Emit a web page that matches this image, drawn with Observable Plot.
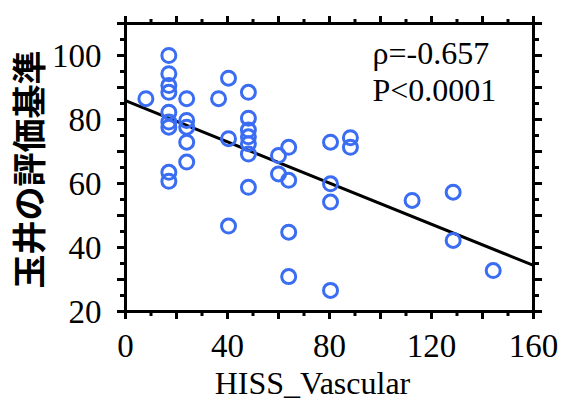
<!DOCTYPE html>
<html>
<head>
<meta charset="utf-8">
<script src="https://cdn.jsdelivr.net/npm/d3@7"></script>
<script src="https://cdn.jsdelivr.net/npm/@observablehq/plot@0.6"></script>
<style>
  html, body { margin: 0; padding: 0; background: white; }
</style>
</head>
<body>
<div id="chart"></div>
<script>
// HISS_Vascular (x) values
const hiss = [
  17, 17, 17, 17, 17, 17, 17, 17, 17,
  8,
  24, 24, 24, 24, 24,
  36.5,
  40.4, 40.4, 40.4,
  48.2, 48.2, 48.2, 48.2, 48.2, 48.2, 48.2,
  60, 60,
  64, 64, 64, 64,
  80.4, 80.4, 80.4, 80.4,
  88.2, 88.2,
  112.4,
  128.5, 128.5,
  144.2
];
// 玉井の評価基準 (y) values
const tamai = [
  100, 94.3, 90.6, 88.5, 82.3, 79.2, 77.6, 63.5, 60.7,
  86.5,
  86.5, 79.7, 77.6, 72.9, 66.7,
  86.5,
  92.9, 74, 46.7,
  88.5, 80.4, 76.7, 74.6, 72.4, 69.2, 58.8,
  68.75, 63,
  71.3, 61, 44.8, 30.9,
  72.9, 59.9, 54.2, 26.6,
  74.3, 71.3,
  54.7,
  57.3, 42.2,
  32.8
];
// regression line (intercept, slope)
const regIntercept = 85.9;
const regSlope = -0.322;
const regX = [0, 160];

const xLabelTicks = [0, 40, 80, 120, 160];
const xMajorTicks = d3.range(0, 161, 20);
const xMinorTicks = d3.range(0, 161, 10);
const yLabelTicks = [20, 40, 60, 80, 100];
const yMajorTicks = d3.range(20, 111, 10);
const yMinorTicks = d3.range(20, 111, 5);

const annotations = ["ρ=-0.657", "P<0.0001"];
const xTitle = "HISS_Vascular";
const yTitle = "玉井の評価基準";

const points = hiss.map((x, i) => ({x, y: tamai[i]}));
const reg = regX.map(x => ({x, y: regIntercept + regSlope * x}));

const blank = () => "";
const serif = "Liberation Serif";

const chart = Plot.plot({
  width: 564,
  height: 405,
  marginLeft: 125,
  marginRight: 31,
  marginTop: 23,
  marginBottom: 94,
  x: {domain: [0, 160], axis: null},
  y: {domain: [20, 110], axis: null},
  style: {background: "white", color: "black"},
  marks: [
    Plot.axisX(xMinorTicks, {anchor: "bottom", tickSize: 5, strokeWidth: 3, tickFormat: blank, label: null}),
    Plot.axisX(xMinorTicks, {anchor: "top", tickSize: 5, strokeWidth: 3, tickFormat: blank, label: null}),
    Plot.axisY(yMinorTicks, {anchor: "left", tickSize: 5, strokeWidth: 3, tickFormat: blank, label: null}),
    Plot.axisY(yMinorTicks, {anchor: "right", tickSize: 5, strokeWidth: 3, tickFormat: blank, label: null}),
    Plot.axisX(xMajorTicks, {anchor: "bottom", tickSize: 8, strokeWidth: 3, tickFormat: blank, label: null}),
    Plot.axisX(xMajorTicks, {anchor: "top", tickSize: 8, strokeWidth: 3, tickFormat: blank, label: null}),
    Plot.axisY(yMajorTicks, {anchor: "left", tickSize: 8, strokeWidth: 3, tickFormat: blank, label: null}),
    Plot.axisY(yMajorTicks, {anchor: "right", tickSize: 8, strokeWidth: 3, tickFormat: blank, label: null}),
    Plot.frame({stroke: "black", strokeWidth: 3}),
    Plot.line(reg, {x: "x", y: "y", stroke: "black", strokeWidth: 3}),
    Plot.dot(points, {x: "x", y: "y", r: 7, stroke: "#3a6df2", strokeWidth: 3, fill: "none"}),
    Plot.text(xLabelTicks, {x: d => d, frameAnchor: "bottom", textAnchor: "middle", lineAnchor: "top", dy: 22, fontSize: 33, fill: "black", fontFamily: serif}),
    Plot.text(yLabelTicks, {y: d => d, frameAnchor: "left", textAnchor: "end", lineAnchor: "middle", dx: -24, dy: 1, fontSize: 33, fill: "black", fontFamily: serif}),
    Plot.text([annotations[0]], {frameAnchor: "top-left", textAnchor: "start", lineAnchor: "bottom", dx: 247, dy: 40, fontSize: 32, fill: "black", fontFamily: serif}),
    Plot.text([annotations[1]], {frameAnchor: "top-left", textAnchor: "start", lineAnchor: "bottom", dx: 247, dy: 77, fontSize: 32, fill: "black", fontFamily: serif}),
    Plot.text([xTitle], {frameAnchor: "bottom", textAnchor: "middle", lineAnchor: "bottom", dx: -17, dy: 82, fontSize: 32, fill: "black", fontFamily: serif}),
    Plot.text([yTitle], {frameAnchor: "left", textAnchor: "middle", lineAnchor: "middle", rotate: -90, dx: -94, dy: 2, fontSize: 34, fontWeight: "bold", fill: "black", fontFamily: "Noto Sans CJK JP"})
  ]
});
document.getElementById("chart").appendChild(chart);
</script>
</body>
</html>
